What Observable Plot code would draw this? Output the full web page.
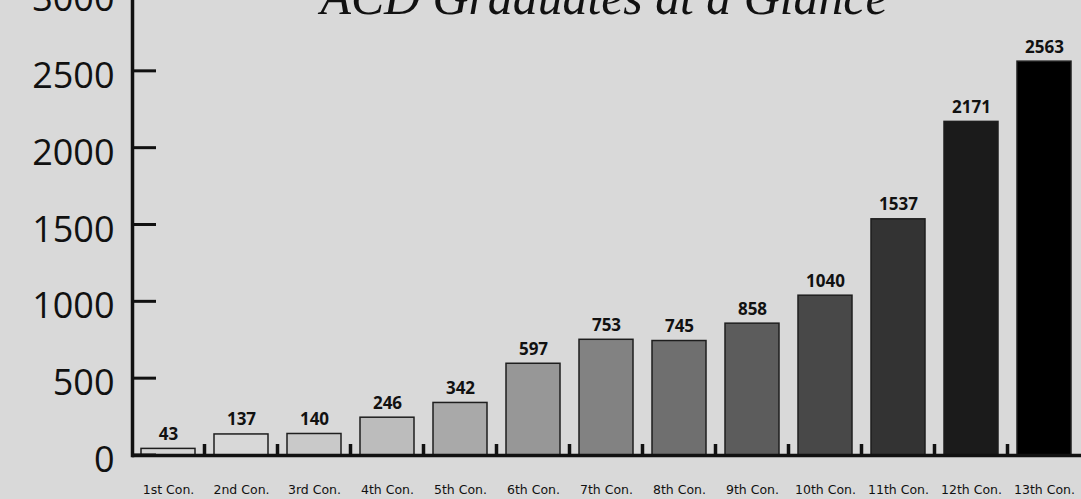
<!DOCTYPE html>
<html><head><meta charset="utf-8">
<script src="https://cdn.jsdelivr.net/npm/d3@7"></script>
<script src="https://cdn.jsdelivr.net/npm/@observablehq/plot@0.6"></script>
<style>
html,body{margin:0;padding:0;background:#d9d9d9;overflow:hidden}
#chart svg{display:block}
</style></head><body><div id="chart"></div>
<script>
const title = "ACD Graduates at a Glance";
const categories = ["1st Con.","2nd Con.","3rd Con.","4th Con.","5th Con.","6th Con.","7th Con.","8th Con.","9th Con.","10th Con.","11th Con.","12th Con.","13th Con."];
const values = [43,137,140,246,342,597,753,745,858,1040,1537,2171,2563];
const shades = ["#d4d4d4","#d8d8d8","#c9c9c9","#bcbcbc","#a9a9a9","#979797","#828282","#6f6f6f","#5c5c5c","#484848","#333333","#1b1b1b","#000000"];
const yTicks = [0,500,1000,1500,2000,2500,3000];

const data = categories.map((c,i)=>({category:c, value:values[i], shade:shades[i]}));

function ySideTicks(index, scales, vals, dim) {
  const g = d3.create("svg:g");
  g.selectAll("line").data(yTicks).join("line")
    .attr("x1", dim.marginLeft).attr("x2", dim.marginLeft + 24)
    .attr("y1", d => scales.y(d)).attr("y2", d => scales.y(d))
    .attr("stroke", "#111").attr("stroke-width", 3);
  return g.node();
}
function bandTicks(index, scales, vals, dim) {
  const x = scales.x;
  const bw = x.bandwidth();
  const step = x.step();
  const y0 = scales.y(0);
  const g = d3.create("svg:g");
  g.selectAll("line").data(categories.slice(1)).join("line")
    .attr("x1", d => x(d) - (step - bw) / 2).attr("x2", d => x(d) - (step - bw) / 2)
    .attr("y1", y0).attr("y2", y0 - 11)
    .attr("stroke", "#111").attr("stroke-width", 3.5);
  return g.node();
}

const chart = Plot.plot({
  width: 1081, height: 499,
  marginLeft: 132, marginRight: 0, marginTop: 0, marginBottom: 44,
  style: {background: "#d9d9d9", color: "#111", overflow: "hidden"},
  x: {domain: categories, paddingInner: 0.26, paddingOuter: 0.13, label: null},
  y: {domain: [0, 3000], range: [455, -6], label: null},
  color: {type: "identity"},
  marks: [
    Plot.barY(data, {x: "category", y: "value", fill: "shade", stroke: "#1e1e1e", strokeWidth: 1.5}),
    Plot.text(data, {x: "category", y: "value", text: d => String(d.value), lineAnchor: "bottom", dy: -9,
      fontSize: 17, fontWeight: 700, fontFamily: "Open Sans", fill: "#111"}),
    Plot.axisX({tickSize: 0, tickPadding: 30, fontSize: 12.5, fontFamily: "DejaVu Sans", fill: "#111", label: null}),
    Plot.axisY({ticks: yTicks, tickSize: 0, tickPadding: 18, fontSize: 36, fontFamily: "Open Sans", dy: 5,
      tickFormat: d => `${d}`, fill: "#111", label: null}),
    ySideTicks,
    bandTicks,
    Plot.ruleY([0], {stroke: "#111", strokeWidth: 3.5}),
    Plot.frame({anchor: "left", stroke: "#111", strokeWidth: 3.5}),
    Plot.text([title], {frameAnchor: "top", text: d => d, lineAnchor: "bottom", dy: 13, dx: -3,
      fontSize: 50, fontStyle: "italic", fontFamily: "Liberation Serif", fill: "#111"})
  ]
});
d3.select(chart).selectAll("text").filter(function(){ return this.textContent === title; })
  .attr("textLength", 567).attr("lengthAdjust", "spacingAndGlyphs");
document.getElementById("chart").appendChild(chart);
</script></body></html>
